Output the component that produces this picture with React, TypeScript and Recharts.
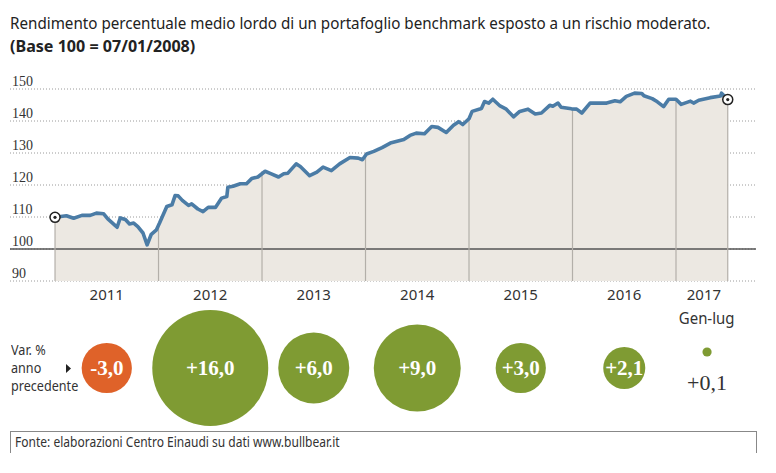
import React from 'react';
import {
  ComposedChart,
  Area,
  Line,
  XAxis,
  YAxis,
  CartesianGrid,
  ReferenceLine,
  ScatterChart,
  Scatter,
  ZAxis
} from 'recharts';

// time as decimal years, value = index (base 100 = 07/01/2008)
const dates = [
  2011.0, 2011.11, 2011.18, 2011.26, 2011.34, 2011.4, 2011.47, 2011.51, 2011.58, 2011.6,
  2011.63, 2011.68, 2011.72, 2011.76, 2011.8, 2011.85, 2011.89, 2011.93, 2011.98, 2012.01,
  2012.08, 2012.13, 2012.16, 2012.19, 2012.23, 2012.29, 2012.32, 2012.38, 2012.43, 2012.48,
  2012.55, 2012.61, 2012.66, 2012.67, 2012.72, 2012.79, 2012.85, 2012.9, 2012.96, 2013.03,
  2013.09, 2013.16, 2013.21, 2013.25, 2013.33, 2013.37, 2013.46, 2013.53, 2013.59, 2013.67,
  2013.75, 2013.85, 2013.93, 2013.97, 2014.01, 2014.08, 2014.16, 2014.24, 2014.37, 2014.43,
  2014.49, 2014.57, 2014.64, 2014.7, 2014.78, 2014.85, 2014.9, 2014.94, 2015.0, 2015.03,
  2015.12, 2015.15, 2015.19, 2015.23, 2015.3, 2015.36, 2015.43, 2015.49, 2015.57, 2015.64,
  2015.7, 2015.78, 2015.81, 2015.86, 2015.89, 2015.99, 2016.04, 2016.09, 2016.17, 2016.33,
  2016.41, 2016.46, 2016.52, 2016.6, 2016.67, 2016.69, 2016.77, 2016.82, 2016.88, 2016.93,
  2017.0, 2017.05, 2017.14, 2017.17, 2017.22, 2017.33, 2017.43, 2017.44, 2017.5
];
const values = [
  109.9, 110.4, 109.6, 110.5, 110.5, 111.2, 111.0, 109.4, 107.4, 106.8,
  109.7, 109.2, 107.8, 108.1, 107.0, 105.0, 101.3, 104.6, 106.0, 108.1,
  113.3, 113.8, 116.7, 116.6, 115.2, 113.6, 114.1, 112.5, 111.7, 113.0,
  113.0, 115.9, 116.4, 119.3, 119.6, 120.4, 120.4, 122.0, 122.5, 124.3,
  123.5, 122.5, 123.5, 123.7, 126.6, 125.8, 122.9, 124.0, 125.6, 124.5,
  126.6, 128.6, 128.4, 127.9, 129.7, 130.5, 131.7, 133.1, 134.2, 135.5,
  136.2, 136.0, 138.3, 138.0, 136.4, 138.7, 139.8, 138.9, 140.7, 143.0,
  143.9, 146.1, 145.6, 146.8, 144.7, 143.7, 141.3, 143.0, 143.7, 142.2,
  142.5, 144.9, 144.6, 145.6, 144.3, 143.8, 143.7, 142.5, 145.6, 145.6,
  146.3, 146.0, 147.7, 148.7, 148.6, 147.9, 147.0, 146.0, 144.5, 146.8,
  146.8, 145.2, 146.2, 145.6, 146.5, 147.3, 147.8, 148.7, 146.7
];

const yTicks = [90, 100, 110, 120, 130, 140, 150];
const yearLabels = ['2011', '2012', '2013', '2014', '2015', '2016', '2017'];
const yearMids = [2011.5, 2012.5, 2013.5, 2014.5, 2015.5, 2016.5, 2017.27];
const yearBreaks = [2012, 2013, 2014, 2015, 2016, 2017];

const changeLabels = ['-3,0', '+16,0', '+6,0', '+9,0', '+3,0', '+2,1', '+0,1'];
const changeValues = [-3.0, 16.0, 6.0, 9.0, 3.0, 2.1, 0.1];
const changeMids = [2011.5, 2012.5, 2013.5, 2014.5, 2015.5, 2016.5, 2017.3];

const X_DOMAIN: [number, number] = [2010.565, 2017.773];
const SANS = '"Noto Sans", "Open Sans", sans-serif';
const SERIF = '"Liberation Serif", "DejaVu Serif", serif';

const series = dates.map((t, i) => ({ t, v: values[i] }));
const bubbles = changeValues.map((v, i) => ({
  x: changeMids[i],
  y: 0.5,
  z: Math.abs(v),
  v,
  label: changeLabels[i]
}));

const valueAt = (t: number) => {
  let best = series[0];
  series.forEach((p) => {
    if (Math.abs(p.t - t) < Math.abs(best.t - t)) best = p;
  });
  return best.v;
};

const edges = [dates[0], ...yearBreaks, dates[dates.length - 1]];

// condensed look: the original face is narrower than anything installed
const Squeeze = ({ k, origin = 'left', children }: any) => (
  <span style={{ display: 'inline-block', whiteSpace: 'nowrap', transform: `scaleX(${k})`, transformOrigin: origin }}>
    {children}
  </span>
);

const YTick = ({ y, payload }: any) => (
  <text x={12} y={y - 3} fontSize={14} fill="#333" fontFamily={SERIF}>
    {payload.value}
  </text>
);

const XTick = ({ x, y, payload }: any) => {
  const i = yearMids.indexOf(payload.value);
  return (
    <text x={x} y={y + 19} fontSize={15} fill="#333" fontFamily={SANS} textAnchor="middle">
      {yearLabels[i]}
    </text>
  );
};

const EndDot = ({ cx, cy, index }: any) => {
  if (index !== 0 && index !== series.length - 1) return <g key={`d-${index}`} />;
  return (
    <g key={`d-${index}`}>
      <circle cx={cx} cy={cy} r={5} fill="#fff" stroke="#222" strokeWidth={1.5} />
      <circle cx={cx} cy={cy} r={1.6} fill="#222" />
    </g>
  );
};

const Bubble = (props: any) => {
  const { cx, cy, payload } = props;
  const size = props.size ?? Math.PI * Math.pow((props.width || 0) / 2, 2);
  const r = Math.sqrt(size / Math.PI);
  const fill = payload.v < 0 ? '#df6229' : '#7f9b33';
  if (r < 10) {
    return (
      <g>
        <circle cx={cx} cy={cy - 16} r={r} fill={fill} />
        <text x={cx} y={cy + 22} textAnchor="middle" fontSize={22} fill="#333" fontFamily={SERIF}>
          {payload.label}
        </text>
      </g>
    );
  }
  return (
    <g>
      <circle cx={cx} cy={cy} r={r} fill={fill} />
      <text x={cx} y={cy + 7} textAnchor="middle" fontSize={21} fontWeight="bold" fill="#fff" fontFamily={SERIF}>
        {payload.label}
      </text>
    </g>
  );
};

export default function App() {
  return (
    <div style={{ position: 'absolute', top: 0, left: 0, width: 776, height: 473, background: '#fff', overflow: 'hidden' }}>
      <div style={{ position: 'absolute', top: 12, left: 10, fontFamily: SANS, fontSize: 16.5, lineHeight: '22.5px', color: '#222' }}>
        <div>
          <Squeeze k={0.92}>Rendimento percentuale medio lordo di un portafoglio benchmark esposto a un rischio moderato.</Squeeze>
        </div>
        <div style={{ fontWeight: 'bold' }}>
          <Squeeze k={0.975}>(Base 100 = 07/01/2008)</Squeeze>
        </div>
      </div>

      <div style={{ position: 'absolute', top: 0, left: 0 }}>
        <ComposedChart width={776} height={310} data={series} margin={{ top: 89, right: 20, bottom: 4, left: 0 }}>
          <CartesianGrid vertical={false} stroke="#9a9a9a" strokeDasharray="1 2" />
          <XAxis
            dataKey="t"
            type="number"
            domain={X_DOMAIN}
            ticks={yearMids}
            interval={0}
            height={25}
            axisLine={false}
            tickLine={false}
            tickSize={0}
            tickMargin={0}
            tick={<XTick />}
          />
          <YAxis
            type="number"
            domain={[90, 150]}
            ticks={yTicks}
            interval={0}
            width={10}
            axisLine={false}
            tickLine={false}
            tickSize={0}
            tickMargin={0}
            tick={<YTick />}
          />
          <Area dataKey="v" type="linear" stroke="none" fill="#ece8e2" fillOpacity={1} baseValue={90} isAnimationActive={false} />
          <ReferenceLine y={100} stroke="#555" strokeWidth={1.3} />
          {edges.map((b) => (
            <ReferenceLine
              key={b}
              segment={[{ x: b, y: 90 }, { x: b, y: valueAt(b) }]}
              stroke="#b3afa9"
              strokeWidth={1.2}
            />
          ))}
          <Line
            dataKey="v"
            type="linear"
            stroke="#4b7ca6"
            strokeWidth={3.6}
            strokeLinejoin="round"
            dot={EndDot}
            activeDot={false}
            isAnimationActive={false}
          />
        </ComposedChart>
      </div>

      <div style={{ position: 'absolute', top: 308, left: 657, width: 100, textAlign: 'center', fontFamily: SANS, fontSize: 17, lineHeight: '20px', color: '#333' }}>
        <Squeeze k={0.88} origin="center">Gen-lug</Squeeze>
      </div>

      <div style={{ position: 'absolute', top: 340, left: 11, fontFamily: SANS, fontSize: 15, lineHeight: '18px', color: '#333' }}>
        <div><Squeeze k={0.84}>Var. %</Squeeze></div>
        <div><Squeeze k={0.84}>anno</Squeeze></div>
        <div><Squeeze k={0.84}>precedente</Squeeze></div>
      </div>
      <svg style={{ position: 'absolute', top: 364, left: 66 }} width={6} height={9}>
        <polygon points="0,0 5,4.5 0,9" fill="#222" />
      </svg>

      <div style={{ position: 'absolute', top: 310, left: 0 }}>
        <ScatterChart width={776} height={116} margin={{ top: 0, right: 20, bottom: 0, left: 10 }}>
          <XAxis dataKey="x" type="number" domain={X_DOMAIN} hide />
          <YAxis dataKey="y" type="number" domain={[0, 1]} hide width={0} />
          <ZAxis dataKey="z" type="number" domain={[0, 16]} range={[0, 10568]} />
          <Scatter data={bubbles} shape={Bubble} isAnimationActive={false} />
        </ScatterChart>
      </div>

      <div
        style={{
          position: 'absolute',
          top: 431,
          left: 10,
          width: 747,
          height: 22,
          borderTop: '1px solid #888',
          borderLeft: '1px solid #888',
          borderRight: '1px solid #888',
          fontFamily: SANS,
          fontSize: 13.5,
          lineHeight: '20px',
          paddingLeft: 4,
          color: '#333',
          boxSizing: 'border-box'
        }}
      >
        <Squeeze k={0.89}>Fonte: elaborazioni Centro Einaudi su dati www.bullbear.it</Squeeze>
      </div>
    </div>
  );
}
